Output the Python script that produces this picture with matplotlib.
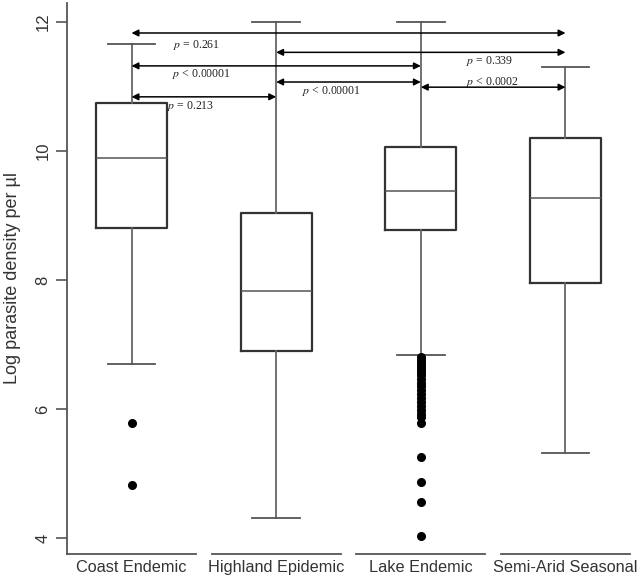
import matplotlib
matplotlib.use("Agg")
from matplotlib import pyplot as plt

plt.rcParams['font.family'] = ['Liberation Sans', 'DejaVu Sans']
plt.rcParams['mathtext.fontset'] = 'stix'

# box summaries
regions = ['Coast Endemic', 'Highland Epidemic', 'Lake Endemic', 'Semi-Arid Seasonal']
whisker_low = [6.70, 4.31, 6.84, 5.32]
q1 = [8.81, 6.90, 8.78, 7.95]
median = [9.89, 7.83, 9.38, 9.27]
q3 = [10.74, 9.04, 10.06, 10.20]
whisker_high = [11.66, 12.0, 12.0, 11.30]
outliers = [
    [5.78, 4.82],
    [],
    [6.80, 6.76, 6.72, 6.67, 6.62, 6.57, 6.52, 6.46, 6.41, 6.35, 6.29,
     6.23, 6.17, 6.11, 6.05, 5.99, 5.93, 5.88, 5.78, 5.26, 4.87, 4.56, 4.03],
    [],
]

# pairwise comparisons: (from group, to group, arrow height, label)
pairs = [(1, 4, 11.83, '$p$ = 0.261'),
         (2, 4, 11.53, '$p$ = 0.339'),
         (1, 3, 11.32, '$p$ < 0.00001'),
         (2, 3, 11.07, '$p$ < 0.00001'),
         (3, 4, 10.99, '$p$ < 0.0002'),
         (1, 2, 10.84, '$p$ = 0.213')]
label_pos = [(1.287, 11.64, 'left'), (3.474, 11.40, 'center'),
             (1.280, 11.19, 'left'), (2.180, 10.93, 'left'),
             (3.315, 11.07, 'left'), (1.246, 10.70, 'left')]

stats = []
for i in range(len(regions)):
    stats.append(dict(label=regions[i], whislo=whisker_low[i], q1=q1[i],
                      med=median[i], q3=q3[i], whishi=whisker_high[i],
                      fliers=outliers[i]))

fig = plt.figure(figsize=(6.42, 5.78), dpi=100)
ax = fig.add_axes([67/642, 24/578, 563/642, 551/578])

pos = list(range(1, len(regions) + 1))
ax.bxp(stats, positions=pos, widths=0.49, capwidths=0.33,
       boxprops=dict(color='#333333', linewidth=1.6),
       medianprops=dict(color='#555555', linewidth=1.1),
       whiskerprops=dict(color='#666666', linewidth=1.3),
       capprops=dict(color='#555555', linewidth=1.3),
       flierprops=dict(marker='o', markerfacecolor='black',
                       markeredgecolor='black', markersize=5.5))

for (a, b, y, lab), (tx, ty, ha) in zip(pairs, label_pos):
    ax.annotate('', xy=(b, y), xytext=(a, y),
                arrowprops=dict(arrowstyle='<|-|>', color='black', lw=1.1,
                                shrinkA=0, shrinkB=0, mutation_scale=10))
    ax.text(tx, ty, lab, ha=ha, va='center', fontsize=8.5,
            family=['Liberation Serif', 'DejaVu Serif'], color='#222222')

ax.set_xlim(0.554, 4.446)
ax.set_ylim(3.752, 12.295)
ax.set_yticks([4, 6, 8, 10, 12])
ax.set_yticklabels(['4', '6', '8', '10', '12'], rotation=90, va='center')
ax.tick_params(axis='y', length=8, width=1.2, color='#555555',
               labelsize=12, pad=4, labelcolor='#333333')
ax.tick_params(axis='x', length=0, labelsize=11.7, pad=4, labelcolor='#333333')
ax.set_xticks(pos)
ax.set_xticklabels(regions)
ax.set_ylabel('Log parasite density per µl', fontsize=13, color='#333333',
              labelpad=10)

for s in ['top', 'right', 'bottom']:
    ax.spines[s].set_visible(False)
ax.spines['left'].set_color('#555555')
ax.spines['left'].set_linewidth(1.3)

# R-style broken baseline under each group
for p in pos:
    ax.plot([p - 0.446, p + 0.446], [3.752, 3.752], color='#555555',
            lw=1.3, clip_on=False)

plt.savefig('out.png', dpi=100)
